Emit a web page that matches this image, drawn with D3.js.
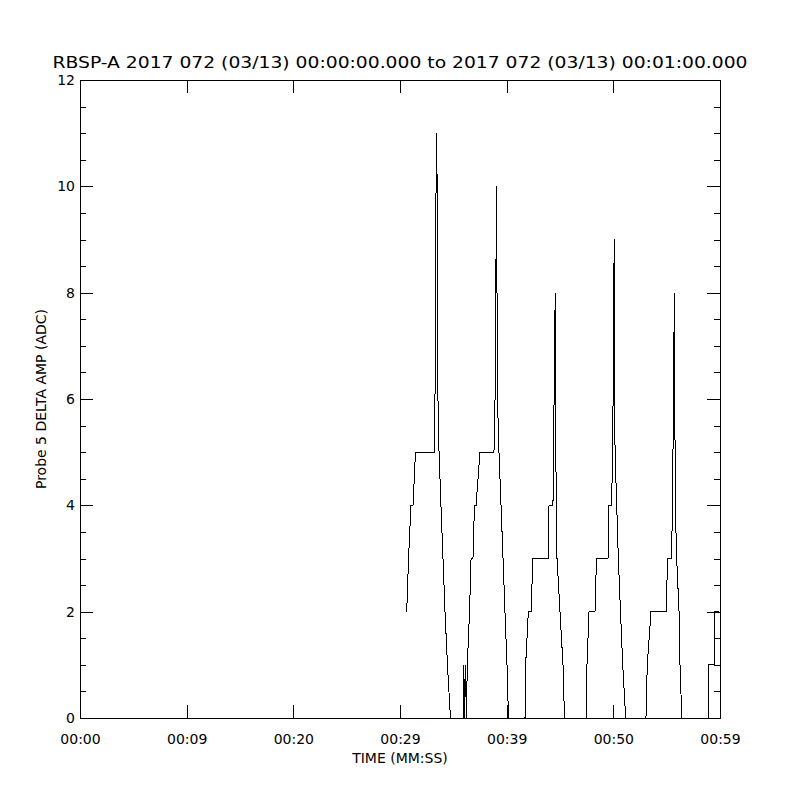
<!DOCTYPE html>
<html>
<head>
<meta charset="utf-8">
<script src="https://cdn.jsdelivr.net/npm/d3@7"></script>
<style>
  body { margin: 0; background: #fff; }
  svg text { font-family: "DejaVu Sans", sans-serif; fill: #000; }
</style>
</head>
<body>
<div id="chart"></div>
<script>
// probe 5 delta amplitude samples (seconds after 00:00:00, ADC counts)
var times = [
    30.63, 30.80, 31.03, 31.22, 31.45, 33.19, 33.28, 33.38, 33.45, 33.50, 33.56, 33.66,
    33.84, 34.03, 34.22, 34.45, 34.73,
    35.91, 35.98, 36.06, 36.14, 36.22, 36.31,
    36.52, 36.66, 36.84, 36.98, 37.13, 37.50, 38.81, 38.91, 39.05, 39.14, 39.28,
    39.47, 39.66, 39.84, 40.03, 40.17,
    41.72, 41.78, 42.03, 42.33, 42.42, 43.88, 43.97, 44.34, 44.55, 44.64, 44.72,
    45.00, 45.28, 45.42,
    47.44, 47.53, 47.72, 48.28, 48.42, 49.50, 49.59, 49.83, 49.94, 50.08, 50.16,
    50.32, 50.47, 50.67, 50.88, 51.16,
    53.06, 53.18, 53.53, 54.94, 55.10, 55.45, 55.55, 55.72, 55.81, 55.94, 56.16,
    56.25, 56.42,
    58.88, 58.91, 59.44, 59.48, 59.95
];
var amps = [
    2, 3, 4, 4, 5, 5, 6, 10, 11, 9, 6, 5,
    4, 3, 2, 1, 0,
    0, 1, 0, 1, 0, 1,
    2, 3, 3, 4, 4, 5, 5, 6, 10, 6, 5,
    4, 3, 2, 1, 0,
    0, 1, 2, 2, 3, 3, 4, 4, 8, 4, 3,
    2, 1, 0,
    0, 1, 2, 2, 3, 3, 4, 4, 5, 9, 5,
    4, 3, 2, 1, 0,
    0, 1, 2, 2, 3, 3, 4, 8, 4, 3, 2,
    1, 0,
    0, 1, 1, 2, 2
];

var xTickValues = [0, 10, 20, 30, 40, 50, 60];
var xTickLabels = ["00:00", "00:09", "00:20", "00:29", "00:39", "00:50", "00:59"];
var yTickValues = [0, 2, 4, 6, 8, 10, 12];

var title = "RBSP-A 2017 072 (03/13) 00:00:00.000 to 2017 072 (03/13) 00:01:00.000";

var data = times.map(function(t, i) { return {t: t, v: amps[i]}; });

var margin = {top: 80, right: 80, bottom: 82, left: 80},
    width = 800 - margin.left - margin.right,
    height = 800 - margin.top - margin.bottom;

var svg = d3.select("#chart").append("svg")
    .attr("width", 800)
    .attr("height", 800)
    .style("background", "#fff");

var g = svg.append("g")
    .attr("transform", "translate(" + margin.left + "," + margin.top + ")");

var x = d3.scaleLinear().domain([0, 60]).range([0, width]);
var y = d3.scaleLinear().domain([0, 12]).range([height, 0]);

var yMinor = d3.range(0, 12.01, 0.5).filter(function(d) { return d % 2 !== 0; });

function style(sel, labels) {
    sel.select(".domain").remove();
    sel.selectAll("line").attr("stroke", "#000").attr("shape-rendering", "crispEdges");
    if (labels) {
        sel.selectAll("text").attr("font-size", 14).attr("font-family", "DejaVu Sans, sans-serif").attr("fill", "#000");
    } else {
        sel.selectAll("text").remove();
    }
}

// bottom / top axis
g.append("g")
    .attr("transform", "translate(0," + height + ")")
    .call(d3.axisBottom(x).tickValues(xTickValues)
        .tickFormat(function(d, i) { return xTickLabels[i]; })
        .tickSizeInner(-12.8).tickSizeOuter(0).tickPadding(16))
    .call(style, true);
g.append("g")
    .call(d3.axisTop(x).tickValues(xTickValues).tickFormat("")
        .tickSizeInner(-12.8).tickSizeOuter(0))
    .call(style, false);

// left axis, major + minor
g.append("g")
    .call(d3.axisLeft(y).tickValues(yTickValues)
        .tickSizeInner(-12.8).tickSizeOuter(0).tickPadding(5))
    .call(style, true);
g.append("g")
    .call(d3.axisLeft(y).tickValues(yMinor).tickFormat("")
        .tickSizeInner(-6.4).tickSizeOuter(0))
    .call(style, false);

// right axis, major + minor
g.append("g")
    .attr("transform", "translate(" + width + ",0)")
    .call(d3.axisRight(y).tickValues(yTickValues).tickFormat("")
        .tickSizeInner(-12.8).tickSizeOuter(0))
    .call(style, false);
g.append("g")
    .attr("transform", "translate(" + width + ",0)")
    .call(d3.axisRight(y).tickValues(yMinor).tickFormat("")
        .tickSizeInner(-6.4).tickSizeOuter(0))
    .call(style, false);

// plot box
g.append("rect")
    .attr("x", 0).attr("y", 0)
    .attr("width", width).attr("height", height)
    .attr("fill", "none").attr("stroke", "#000")
    .attr("shape-rendering", "crispEdges");

// the trace
var line = d3.line()
    .x(function(d) { return x(d.t); })
    .y(function(d) { return y(d.v); });

g.append("path")
    .datum(data)
    .attr("d", line)
    .attr("fill", "none")
    .attr("stroke", "#000")
    .attr("stroke-width", 1)
    .attr("shape-rendering", "crispEdges");

// titles
svg.append("text")
    .attr("x", 400).attr("y", 68)
    .attr("text-anchor", "middle")
    .attr("font-size", 16)
    .attr("textLength", 695)
    .attr("lengthAdjust", "spacingAndGlyphs")
    .text(title);

svg.append("text")
    .attr("x", 400).attr("y", 763)
    .attr("text-anchor", "middle")
    .attr("font-size", 14)
    .text("TIME (MM:SS)");

svg.append("text")
    .attr("transform", "translate(46,399) rotate(-90)")
    .attr("text-anchor", "middle")
    .attr("font-size", 14)
    .text("Probe 5 DELTA AMP (ADC)");
</script>
</body>
</html>
